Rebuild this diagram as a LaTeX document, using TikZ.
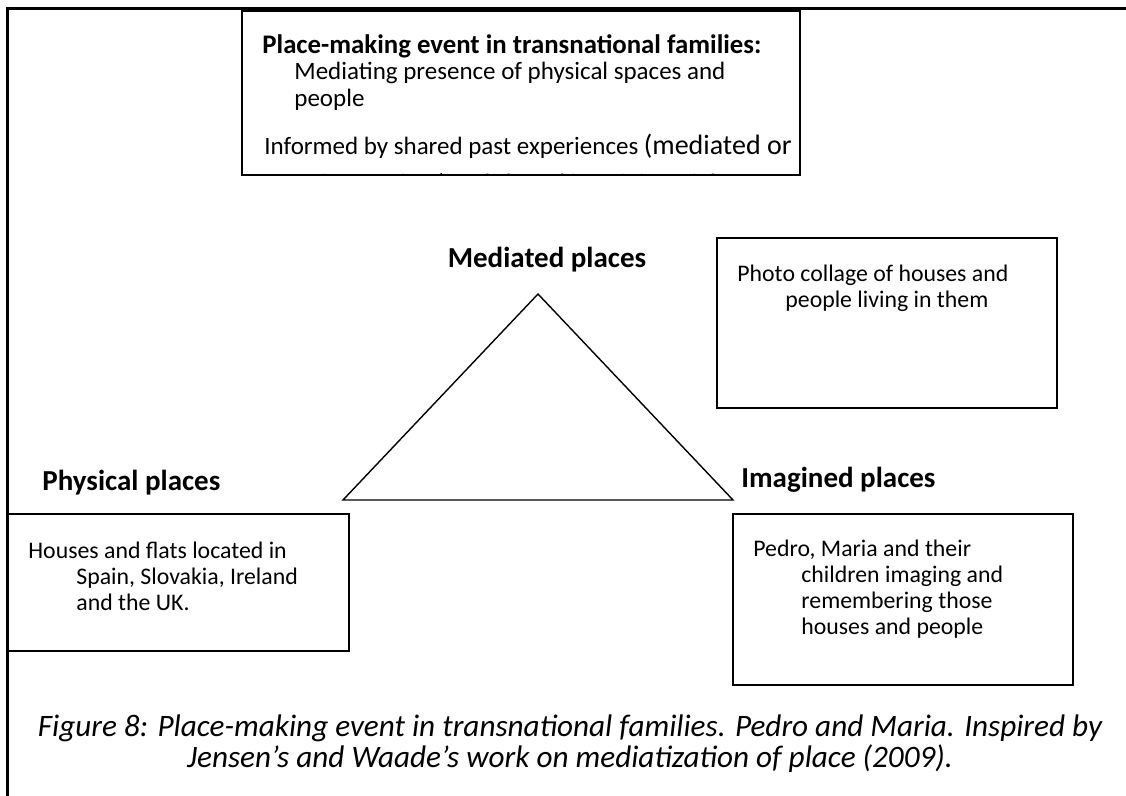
\documentclass[tikz,border=0pt]{standalone}
\usepackage{fontspec}
\setmainfont{Carlito}
\begin{document}
\begin{tikzpicture}[x=0.5pt,y=-0.5pt,
  frameline/.style={line width=1.5pt},
  boxline/.style={draw,line width=0.9pt,anchor=north west,inner sep=0pt},
  heading/.style={font=\fontsize{14.5}{16}\bfseries\selectfont,inner sep=0pt},
  bodytext/.style={font=\fontsize{11.9}{13}\selectfont,align=left,anchor=north west,inner sep=0pt},
  eventtext/.style={font=\fontsize{12.5}{13.5}\selectfont,anchor=west,inner sep=0pt},
  captext/.style={font=\fontsize{15.6}{15.5}\itshape\selectfont,align=center,inner sep=0pt}]
  \useasboundingbox (0,0) rectangle (1126,796);
  % frame
  \coordinate (tl) at (7,9);
  \coordinate (tr) at (1126,9);
  \coordinate (bl) at (7,796);
  \draw[frameline] (tr) -- (tl) -- (bl);

  % top box
  \node[boxline,minimum width=279pt,minimum height=82pt] (event) at (241,10) {};
  \begin{scope}
    \clip (event.north west) rectangle (event.south east);
    \node[font=\fontsize{13.4}{14}\bfseries\selectfont,anchor=west,inner sep=0pt] (eventtitle) at (262,46) {Place-making event in transnational families:};
    \node[eventtext] (eventa) at (294,73) {Mediating presence of physical spaces and};
    \node[eventtext] (eventb) at (294,100) {people};
    \node[eventtext] (eventc) at (264,146) {Informed by shared past experiences {\fontsize{14}{14}\selectfont(mediated or}};
    \node[eventtext,anchor=base west] (eventd) at (318,192) {face-to-face) and shared imagining of the};
  \end{scope}

  % triangle
  \coordinate (apex) at (538,294);
  \coordinate (left) at (343,500);
  \coordinate (right) at (733,500);
  \draw[line width=0.7pt] (apex) -- (right) -- (left) -- cycle;

  % headings
  \node[heading] (mediated) at (547,260) {Mediated places};
  \node[heading,anchor=west] (physical) at (42,483) {Physical places};
  \node[heading,anchor=west] (imagined) at (741,480) {Imagined places};

  % boxes
  \node[boxline,minimum width=170.5pt,minimum height=68.5pt] (physbox) at (7,513) {};
  \node[bodytext] (phystext) at (28,542) {Houses and flats located in\\
    \hspace*{24pt}Spain, Slovakia, Ireland\\
    \hspace*{24pt}and the UK.};

  \node[boxline,minimum width=170pt,minimum height=85pt] (photobox) at (716,237) {};
  \node[bodytext] (phototext) at (737,265) {Photo collage of houses and\\
    \hspace*{24pt}people living in them};

  \node[boxline,minimum width=170pt,minimum height=85.5pt] (imagbox) at (732,513) {};
  \node[bodytext] (imagtext) at (753,540) {Pedro, Maria and their\\
    \hspace*{24pt}children imaging and\\
    \hspace*{24pt}remembering those\\
    \hspace*{24pt}houses and people};

  % caption
  \node[captext] (caption) at (570,744) {Figure 8: Place-making event in transnational families. Pedro and Maria. Inspired by\\
    Jensen’s and Waade’s work on mediatization of place (2009).};
\end{tikzpicture}
\end{document}
